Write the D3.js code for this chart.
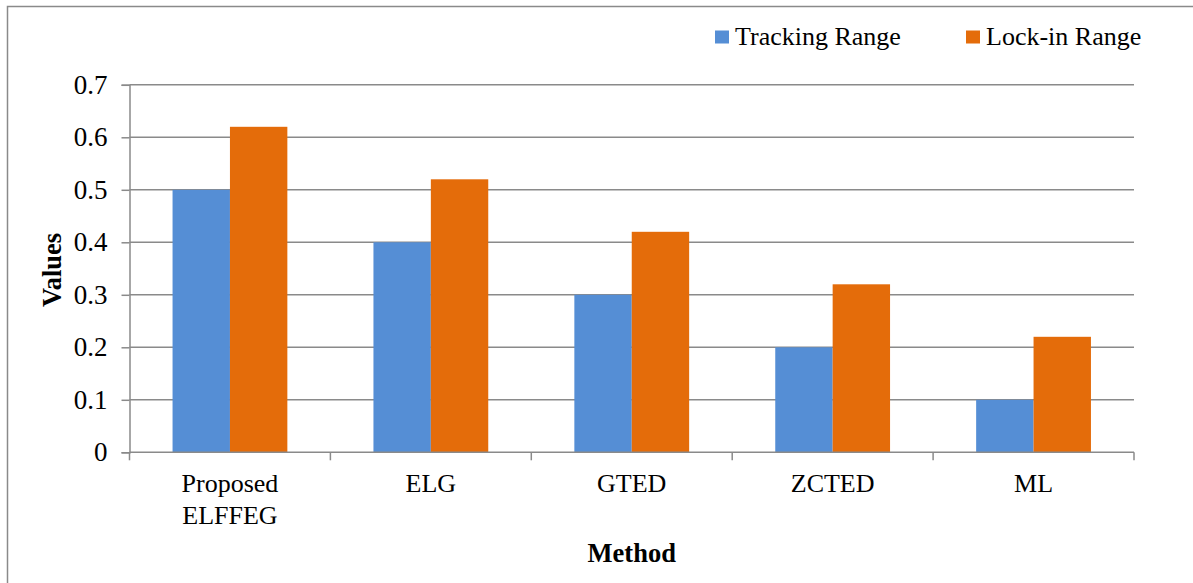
<!DOCTYPE html>
<html><head><meta charset="utf-8">
<script src="https://cdn.jsdelivr.net/npm/d3@7"></script>
<style>body{margin:0;background:#fff}svg{display:block}text{font-family:"Liberation Serif","Times New Roman",serif;fill:#000}</style>
</head><body><svg id="c" width="1193" height="583"></svg>
<script>
const categories = [["Proposed","ELFFEG"],["ELG"],["GTED"],["ZCTED"],["ML"]];
const seriesNames = ["Tracking Range","Lock-in Range"];
const tracking = [0.5,0.4,0.3,0.2,0.1];
const lockin = [0.62,0.52,0.42,0.32,0.22];
const yTicks = [0,0.1,0.2,0.3,0.4,0.5,0.6,0.7];
const colors = ["#558ED5","#E46C0A"];

const svg = d3.select("#c");
svg.append("rect").attr("x",7.5).attr("y",6.5).attr("width",1300).attr("height",700)
  .attr("fill","none").attr("stroke","#8a8a8a").attr("stroke-width",1.5);

const L=129.5,R=1134,T=84.8,B=452.3;
const keys = categories.map((c,i)=>"c"+i);
const x = d3.scaleBand().domain(keys).range([L,R]).paddingInner(0).paddingOuter(0);
const inner = d3.scaleBand().domain([0,1]).range([0,x.bandwidth()]).paddingInner(0).paddingOuter(0.75);
const y = d3.scaleLinear().domain([0,0.7]).range([B,T]);

// gridlines
svg.append("g").selectAll("line").data(yTicks.slice(1)).join("line")
  .attr("x1",L).attr("x2",R).attr("y1",d=>y(d)).attr("y2",d=>y(d))
  .attr("stroke","#8a8a8a").attr("stroke-width",1.5);

// bars
const data = [tracking,lockin];
keys.forEach((k,i)=>{
  data.forEach((s,j)=>{
    svg.append("rect").attr("x",x(k)+inner(j)).attr("width",inner.bandwidth())
      .attr("y",y(s[i])).attr("height",B-y(s[i])).attr("fill",colors[j]);
  });
});

// y axis
const yAxis = d3.axisLeft(y).tickValues(yTicks).tickFormat(d=>d===0?"0":d3.format(".1f")(d)).tickSize(8).tickPadding(14);
const gy = svg.append("g").attr("transform",`translate(${L},0)`).call(yAxis);
gy.select(".domain").attr("stroke","#8a8a8a").attr("stroke-width",1.5);
gy.selectAll(".tick line").attr("stroke","#8a8a8a").attr("stroke-width",1.5);
gy.selectAll(".tick text").attr("font-size",27).attr("font-family","Liberation Serif").attr("fill","#000");

// x axis
const xAxis = d3.axisBottom(x).tickSize(0).tickFormat("");
const gx = svg.append("g").attr("transform",`translate(0,${B})`).call(xAxis);
gx.select(".domain").remove();
gx.append("line").attr("x1",L).attr("x2",R).attr("stroke","#8a8a8a").attr("stroke-width",1.5);
gx.selectAll("line.sep").data(d3.range(keys.length+1)).join("line").attr("class","sep")
  .attr("x1",i=>L+i*x.step()).attr("x2",i=>L+i*x.step()).attr("y1",0).attr("y2",8)
  .attr("stroke","#8a8a8a").attr("stroke-width",1.5);
keys.forEach((k,i)=>{
  const t = svg.append("text").attr("x",x(k)+x.bandwidth()/2).attr("y",492)
    .attr("text-anchor","middle").attr("font-size",26);
  categories[i].forEach((line,li)=>{
    t.append("tspan").attr("x",x(k)+x.bandwidth()/2).attr("dy",li===0?0:31.6).text(line);
  });
});

// axis titles
svg.append("text").attr("x",(L+R)/2).attr("y",561.5).attr("text-anchor","middle")
  .attr("font-size",26.5).attr("font-weight","bold").text("Method");
svg.append("text").attr("transform","translate(61,270) rotate(-90)").attr("text-anchor","middle")
  .attr("font-size",26.5).attr("font-weight","bold").text("Values");

// legend
const legX = [715,966];
seriesNames.forEach((n,i)=>{
  svg.append("rect").attr("x",legX[i]).attr("y",30.5).attr("width",14).attr("height",13).attr("fill",colors[i]);
  svg.append("text").attr("x",legX[i]+20).attr("y",44.5).attr("font-size",26).text(n);
});
</script></body></html>
